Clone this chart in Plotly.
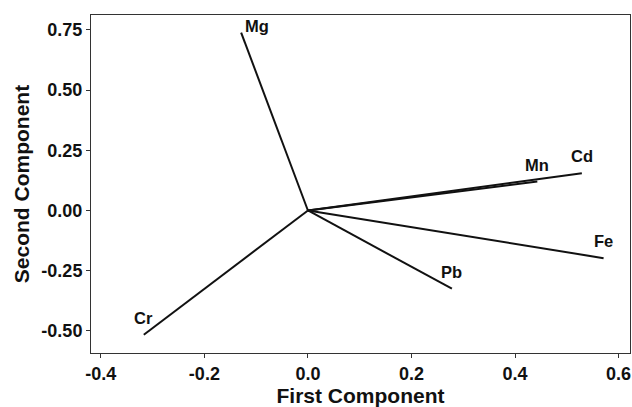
import plotly.graph_objects as go

variables = ["Mg", "Cr", "Pb", "Mn", "Cd", "Fe"]
pc1 = [-0.129, -0.317, 0.278, 0.443, 0.529, 0.571]
pc2 = [0.739, -0.516, -0.325, 0.120, 0.155, -0.198]

x_tickvals = [-0.4, -0.2, 0.0, 0.2, 0.4, 0.6]
x_ticktext = ["-0.4", "-0.2", "0.0", "0.2", "0.4", "0.6"]
y_tickvals = [-0.50, -0.25, 0.00, 0.25, 0.50, 0.75]
y_ticktext = ["-0.50", "-0.25", "0.00", "0.25", "0.50", "0.75"]

FONT = "Liberation Sans, Arial, sans-serif"

fig = go.Figure()
for name, a, b in zip(variables, pc1, pc2):
    fig.add_trace(go.Scatter(
        x=[0, a], y=[0, b], mode="lines", name=name,
        line=dict(color="#111111", width=2), showlegend=False, hoverinfo="skip",
    ))
    if name == "Mg":
        fig.add_annotation(x=a, y=b, text=name, showarrow=False,
                           xanchor="left", yanchor="middle", xshift=2, yshift=7,
                           font=dict(family=FONT, size=16.5, color="#111111", weight="bold"))
    else:
        fig.add_annotation(x=a, y=b, text=name, showarrow=False,
                           xanchor="center", yanchor="middle", xshift=0, yshift=17,
                           font=dict(family=FONT, size=16.5, color="#111111", weight="bold"))

axis_common = dict(
    showgrid=False, zeroline=False, showline=True, mirror=True,
    linecolor="#333333", linewidth=1, ticks="outside", ticklen=4, tickwidth=1,
    tickcolor="#333333", automargin=False,
    tickfont=dict(family=FONT, size=18, color="#111111", weight="bold"),
)

fig.update_layout(
    width=632, height=407,
    margin=dict(l=91, r=2, t=15, b=54),
    paper_bgcolor="white", plot_bgcolor="white",
    xaxis=dict(range=[-0.419, 0.622], tickvals=x_tickvals, ticktext=x_ticktext,
               title=dict(text="First Component", standoff=6,
                          font=dict(family=FONT, size=21, color="#111111", weight="bold")),
               **axis_common),
    yaxis=dict(range=[-0.592, 0.812], tickvals=y_tickvals, ticktext=y_ticktext,
               title=dict(text="Second Component", standoff=6,
                          font=dict(family=FONT, size=21, color="#111111", weight="bold")),
               **axis_common),
)

fig.write_html("out.html", config={"displayModeBar": False},
               post_script="document.body.style.margin='0';document.body.style.padding='0';")
